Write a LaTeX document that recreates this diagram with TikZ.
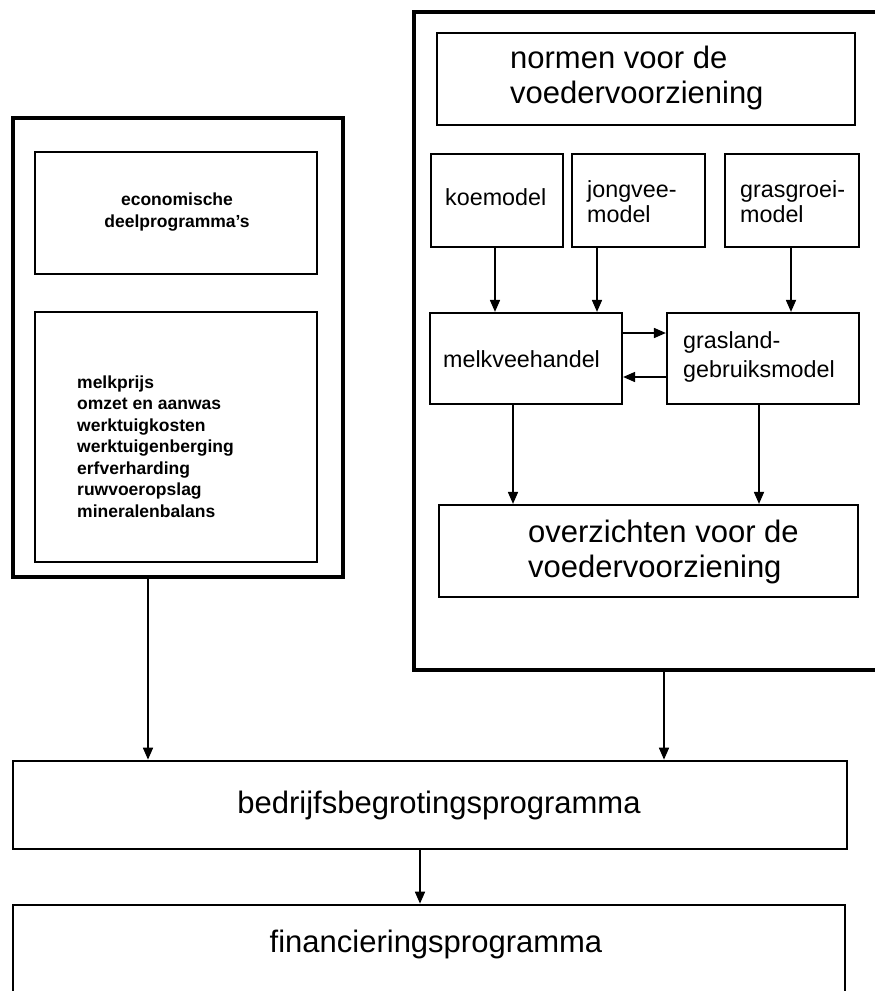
\documentclass[tikz,border=0pt]{standalone}
\usepackage{fontspec}
\setmainfont{Liberation Sans}
\usetikzlibrary{arrows.meta}
\tikzset{
  outerbox/.style={draw, line width=3.3pt, inner sep=0pt},
  innerbox/.style={draw, line width=2.2pt, inner sep=0pt},
  arr/.style={line width=1.7pt, -{Triangle[length=12pt,width=10pt]}},
  txt/.style={inner sep=0pt, anchor=base west},
  bigtxt/.style={txt, font=\fontsize{31}{36}\selectfont},
  midtxt/.style={txt, font=\fontsize{23.3}{27}\selectfont},
  smalltxt/.style={txt, font=\bfseries\fontsize{17.5}{21}\selectfont},
}
\begin{document}
\begin{tikzpicture}[x=1pt,y=-1pt]
\useasboundingbox (0,0) rectangle (875,991);
\clip (0,0) rectangle (875,991);
% left block
\node[outerbox, minimum width=330pt, minimum height=459pt] (lout) at (178,347.5) {};
\node[innerbox, minimum width=282pt, minimum height=122pt] (econ) at (176,213) {};
\node[innerbox, minimum width=282pt, minimum height=250pt] (list) at (176,437) {};
\node[smalltxt, anchor=base] (e1) at (177,205) {economische};
\node[smalltxt, anchor=base] (e2) at (177,227) {deelprogramma's};
\node[smalltxt] (l1) at (77,388) {melkprijs};
\node[smalltxt] (l2) at (77,409.5) {omzet en aanwas};
\node[smalltxt] (l3) at (77,431) {werktuigkosten};
\node[smalltxt] (l4) at (77,452.5) {werktuigenberging};
\node[smalltxt] (l5) at (77,474) {erfverharding};
\node[smalltxt] (l6) at (77,495.5) {ruwvoeropslag};
\node[smalltxt] (l7) at (77,517) {mineralenbalans};
% right block
\node[outerbox, minimum width=486pt, minimum height=658pt] (rout) at (657,341) {};
\node[innerbox, minimum width=418pt, minimum height=92pt] (normen) at (646,79) {};
\node[bigtxt] (n1) at (510,68) {normen voor de};
\node[bigtxt] (n2) at (510,103) {voedervoorziening};
\node[innerbox, minimum width=132pt, minimum height=93pt] (koe) at (497,200.5) {};
\node[innerbox, minimum width=133pt, minimum height=93pt] (jong) at (638.5,200.5) {};
\node[innerbox, minimum width=134pt, minimum height=93pt] (gras) at (792,200.5) {};
\node[midtxt] (k1) at (445,205) {koemodel};
\node[midtxt] (j1) at (587,197) {jongvee-};
\node[midtxt] (j2) at (587,222) {model};
\node[midtxt] (g1) at (740,197) {grasgroei-};
\node[midtxt] (g2) at (740,222) {model};
\node[innerbox, minimum width=192pt, minimum height=91pt] (melk) at (526,358.5) {};
\node[innerbox, minimum width=192pt, minimum height=91pt] (gland) at (763,358.5) {};
\node[midtxt] (m1) at (443,367) {melkveehandel};
\node[midtxt] (gl1) at (683,348) {grasland-};
\node[midtxt] (gl2) at (683,377) {gebruiksmodel};
\node[innerbox, minimum width=419pt, minimum height=92pt] (overz) at (648.5,551) {};
\node[bigtxt] (o1) at (528,542) {overzichten voor de};
\node[bigtxt] (o2) at (528,577) {voedervoorziening};
% bottom
\node[outerbox, line width=2.7pt, minimum width=834pt, minimum height=88pt] (bedr) at (430,805) {};
\node[bigtxt, anchor=base] (b1) at (439,813) {bedrijfsbegrotingsprogramma};
\node[outerbox, line width=2.7pt, minimum width=832pt, minimum height=105pt] (fin) at (429,957.5) {};
\node[bigtxt, anchor=base] (f1) at (436,952) {financieringsprogramma};
% arrows
\draw[arr] ([xshift=-2pt]koe.south) -- ([xshift=-2pt]koe.south |- melk.north);
\draw[arr] ([xshift=-41.5pt]jong.south) -- ([xshift=-41.5pt]jong.south |- melk.north);
\draw[arr] ([xshift=-1pt]gras.south) -- ([xshift=-1pt]gras.south |- gland.north);
\draw[arr] ([yshift=25.5pt]melk.east) -- ([yshift=25.5pt]melk.east -| gland.west);
\draw[arr] ([yshift=-18.5pt]gland.west) -- ([yshift=-18.5pt]gland.west -| melk.east);
\draw[arr] ([xshift=-13pt]melk.south) -- ([xshift=-13pt]melk.south |- overz.north);
\draw[arr] ([xshift=-4pt]gland.south) -- ([xshift=-4pt]gland.south |- overz.north);
\draw[arr] ([xshift=-30pt]lout.south) -- ([xshift=-30pt]lout.south |- bedr.north);
\draw[arr] ([xshift=7pt]rout.south) -- ([xshift=7pt]rout.south |- bedr.north);
\draw[arr] ([xshift=-10pt]bedr.south) -- ([xshift=-10pt]bedr.south |- fin.north);
\end{tikzpicture}
\end{document}
